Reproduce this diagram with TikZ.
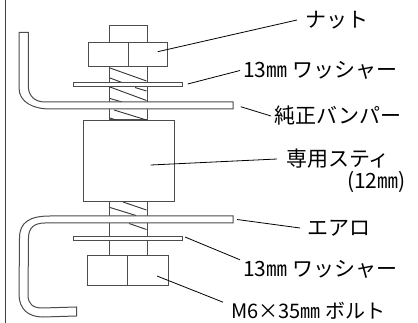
\documentclass[tikz,border=0pt]{standalone}
\usepackage{fontspec}
\setmainfont{Noto Sans CJK JP}
\usepackage{tikz}
\usetikzlibrary{positioning}

\tikzset{
	part/.style = {draw=black!70, line width=1pt, fill=white},
	thread/.style = {draw=black!80, line width=0.9pt},
	leader/.style = {draw=black, line width=0.8pt},
	caption/.style = {font=\fontsize{21}{21}\selectfont, inner sep=0pt, anchor=west}
}

\begin{document}
\begin{tikzpicture}[x=1pt, y=-1pt]
	\useasboundingbox (0,0) rectangle (418,323);
	\draw[draw=black!75, line width=1.2pt] (5.3,0) -- (5.3,323);

	% shaft
	\draw[part] (109,25.7) rectangle (147,120);
	\draw[part] (109,201) rectangle (147,255.7);
	\foreach \xa/\ya/\xb/\yb in {110/68/146.5/81, 110/78/122/82.5, 135/87.5/146.5/91, 110/87/146.5/100.5,
			110/98.5/122/102, 114/110/146.5/120, 110/118/116/120,
			123/202/146.5/210, 110/207.5/136/215.5, 129/223.5/146.5/229.5}
		\draw[thread] (\xa,\ya) -- (\xb,\yb);

	% nut, washers, spacer, head
	\draw[part] (88.3,42.3) rectangle (167.3,66.3);
	\draw[part] (128,42.3) -- (128,66.3);
	\draw[part] (73.3,82.7) rectangle (182.7,86.7);
	\draw[part] (83.3,120.3) rectangle (174.7,201.7);
	\draw[part] (73.3,236.7) rectangle (182.7,240.3);
	\draw[part] (87.7,255.7) rectangle (168.3,286);
	\draw[part] (127.3,255.7) -- (127.3,286);

	% bumper and aero
	\draw[part] (19,32.5) -- (19,88) .. controls (19,102) and (33,109) .. (50,109) -- (233,109)
		-- (233,102) -- (45,102) .. controls (35,102) and (28.3,96) .. (28.3,86) -- (28.3,32.5) -- cycle;
	\draw[part] (233,216) -- (50,216) .. controls (30,216) and (19.5,222) .. (19.5,238) -- (19,294)
		.. controls (19,309) and (28,317) .. (43,317) -- (76.5,316) -- (76.5,307) -- (42,308)
		.. controls (33,308) and (28,304) .. (28,295) -- (28.5,238) .. controls (28.5,228) and (34,223) .. (45,223) -- (233,223) -- cycle;

	% leader start points
	\coordinate (pNut) at (157.7,51.7);
	\coordinate (pWasherA) at (187.7,84);
	\coordinate (pBumper) at (240.7,106.7);
	\coordinate (pStay) at (150.7,165);
	\coordinate (pAero) at (237,219.5);
	\coordinate (pWasherB) at (185,237);
	\coordinate (pBolt) at (157,276);

	\node[caption, inner xsep=8pt] (tNut) at (297,20) {ナット};
	\node[caption, inner xsep=3pt] (tWasherA) at (240,70.5) {13㎜ ワッシャー};
	\node[caption, inner xsep=3pt] (tBumper) at (271,116) {純正バンパー};
	\node[caption, inner xsep=9pt] (tStay) at (277,159) {専用スティ};
	\node[caption] (tSize) at (347,182) {(12㎜)};
	\node[caption, inner xsep=7pt] (tAero) at (300,228) {エアロ};
	\node[caption, inner xsep=3pt] (tWasherB) at (240,269) {13㎜ ワッシャー};
	\node[caption, inner xsep=8pt, font=\fontsize{20}{20}\selectfont] (tBolt) at (223,311) {M6×35㎜ ボルト};

	\path[leader]
		(pNut) edge (tNut.west)
		(pWasherA) edge (tWasherA.west)
		(pBumper) edge (tBumper.west)
		(pStay) edge (tStay.west)
		(pAero) edge (tAero.west)
		(pWasherB) edge (tWasherB.north west)
		(pBolt) edge (tBolt.north west);
\end{tikzpicture}
\end{document}
